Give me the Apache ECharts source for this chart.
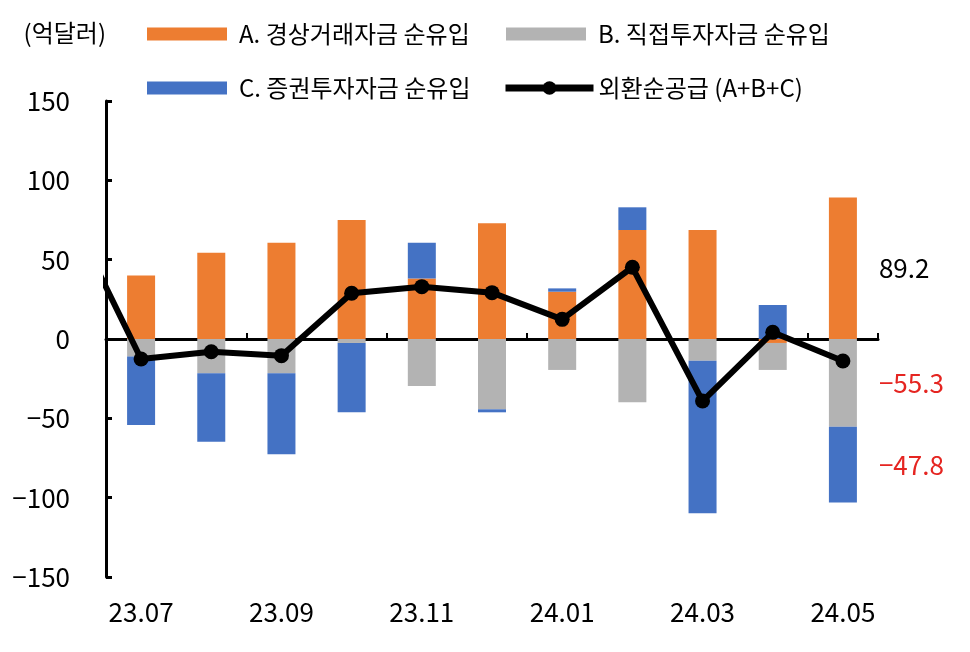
<!DOCTYPE html>
<html>
<head>
<meta charset="utf-8">
<script src="https://cdn.jsdelivr.net/npm/echarts@6/dist/echarts.min.js"></script>
<style>
html,body{margin:0;padding:0;background:#fff;}
#chart{width:970px;height:652px;}
</style>
</head>
<body>
<div id="chart"></div>
<script>
// ---- data (억달러) ----
const categories = ['23.07','23.08','23.09','23.10','23.11','23.12','24.01','24.02','24.03','24.04','24.05'];
const seriesA = [40.0, 54.4, 60.7, 75.0, 38.2, 72.9, 29.8, 68.7, 68.7, -2.5, 89.2];      // 경상거래자금 순유입
const seriesB = [-11.1, -21.6, -21.6, -2.5, -29.6, -44.3, -19.5, -39.9, -13.7, -17.0, -55.3]; // 직접투자자금 순유입
const seriesC = [-43.1, -43.1, -51.1, -43.7, 22.5, -1.9, 2.1, 14.3, -96.1, 21.4, -47.8];  // 증권투자자금 순유입
const netSupply = [-12.6, -8.0, -10.5, 28.8, 33.0, 29.2, 12.4, 45.2, -39.1, 4.2, -13.9]; // 외환순공급
const prevNetSupply = 78;          // 23.06 (only the clipped segment is visible)
const yMin = -150, yMax = 150, yStep = 50;

const names = ['A. 경상거래자금 순유입', 'B. 직접투자자금 순유입', 'C. 증권투자자금 순유입', '외환순공급 (A+B+C)'];
const colors = ['#ED7D31', '#B3B3B3', '#4472C4', '#000000'];

const FONT = '"Noto Sans CJK KR", "Noto Sans", sans-serif';
const minus = v => (v < 0 ? '\u2212' + Math.abs(v) : String(v));
const last = categories.length - 1;

function withLastLabel(arr, color) {
  return arr.map((v, i) => i === last ? {
    value: v,
    label: {
      show: true, position: 'right', distance: 22,
      color: color, fontSize: 26, fontFamily: FONT,
      formatter: p => minus(p.value)
    }
  } : v);
}

const chart = echarts.init(document.getElementById('chart'), null, {renderer: 'canvas'});

const legendBase = {
  orient: 'horizontal', itemWidth: 80, itemHeight: 13,
  textStyle: {fontSize: 24, fontFamily: FONT, color: '#000', padding: [0, 0, 0, 7]},
  selectedMode: false
};

chart.setOption({
  backgroundColor: '#fff',
  animation: false,
  textStyle: {fontFamily: FONT},
  grid: {left: 106, right: 92, top: 101, bottom: 75, containLabel: false},
  legend: [
    Object.assign({}, legendBase, {data: [{name: names[0], icon: 'rect'}], left: 142, top: 17}),
    Object.assign({}, legendBase, {data: [{name: names[1], icon: 'rect'}], left: 501, top: 17}),
    Object.assign({}, legendBase, {data: [{name: names[2], icon: 'rect'}], left: 142, top: 71}),
    Object.assign({}, legendBase, {data: [{name: names[3]}], left: 497, top: 71,
      itemWidth: 88, itemHeight: 17,
      lineStyle: {width: 7, color: '#000'},
      textStyle: {fontSize: 24, fontFamily: FONT, color: '#000', padding: [0, 0, 0, 0]}})
  ],
  xAxis: [
    { // labels at the bottom
      type: 'category', data: categories, position: 'bottom',
      axisLine: {show: false, onZero: false},
      axisTick: {show: false},
      axisLabel: {interval: 1, fontSize: 26, fontFamily: FONT, color: '#000', margin: 22}
    },
    { // zero line with ticks
      type: 'category', data: categories, position: 'top',
      axisLine: {show: true, onZero: true, lineStyle: {color: '#000', width: 3}},
      axisTick: {show: true, interval: 1, inside: false, length: 6, lineStyle: {color: '#000', width: 2}},
      axisLabel: {show: false}
    },
    { // value axis for the line (same positions as the categories)
      type: 'value', min: -0.5, max: 10.5, show: false, position: 'bottom',
      axisLine: {onZero: false}
    }
  ],
  yAxis: {
    type: 'value', min: yMin, max: yMax, interval: yStep,
    name: '(억달러)', nameLocation: 'end', nameGap: 68,
    nameTextStyle: {fontSize: 24, fontFamily: FONT, color: '#000', align: 'right', verticalAlign: 'middle'},
    axisLine: {show: true, onZero: false, lineStyle: {color: '#000', width: 3}},
    axisTick: {show: true, inside: true, length: 6, lineStyle: {color: '#000', width: 3}},
    splitLine: {show: false},
    axisLabel: {fontSize: 26, fontFamily: FONT, color: '#000', margin: 36, formatter: v => minus(v)}
  },
  series: [
    {name: names[0], type: 'bar', stack: 'total', barWidth: 28, xAxisIndex: 0,
     itemStyle: {color: colors[0]}, data: withLastLabel(seriesA, '#000')},
    {name: names[1], type: 'bar', stack: 'total', barWidth: 28, xAxisIndex: 0,
     itemStyle: {color: colors[1]}, data: withLastLabel(seriesB, '#E52521')},
    {name: names[2], type: 'bar', stack: 'total', barWidth: 28, xAxisIndex: 0,
     itemStyle: {color: colors[2]}, data: withLastLabel(seriesC, '#E52521')},
    {name: names[3], type: 'line', xAxisIndex: 2, clip: true, z: 5,
     symbol: 'circle', symbolSize: 15,
     lineStyle: {color: '#000', width: 6}, itemStyle: {color: '#000'},
     data: [[-1, prevNetSupply]].concat(netSupply.map((v, i) => [i, v]))}
  ]
});
</script>
</body>
</html>
